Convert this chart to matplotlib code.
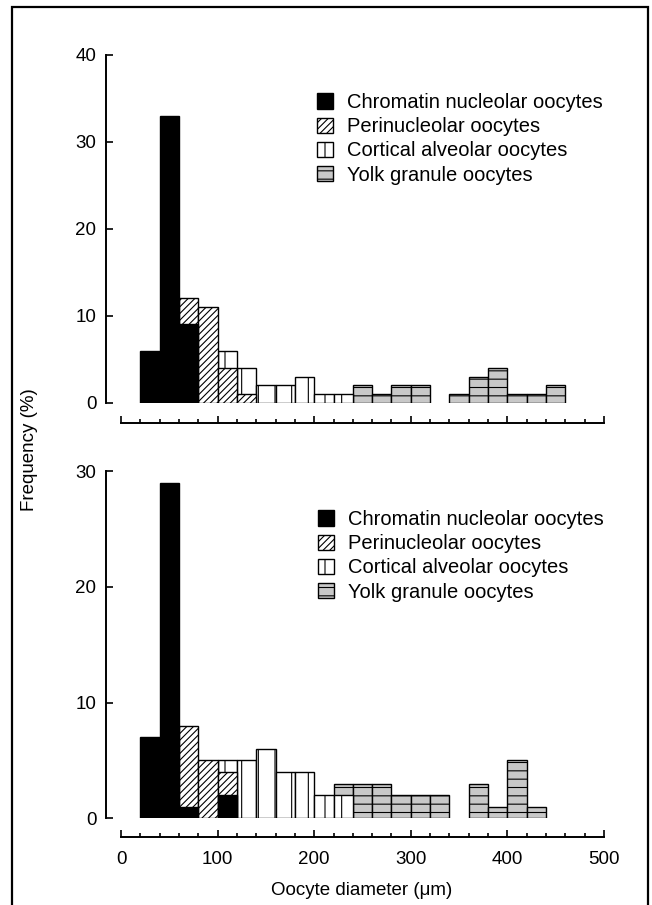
import matplotlib
matplotlib.use('Agg')
import matplotlib.pyplot as plt
from matplotlib.patches import Rectangle, Patch
from matplotlib.ticker import MultipleLocator

plt.rcParams['font.family'] = ['Liberation Sans', 'DejaVu Sans']
plt.rcParams['hatch.linewidth'] = 0.8

labels = ['Chromatin nucleolar oocytes', 'Perinucleolar oocytes',
          'Cortical alveolar oocytes', 'Yolk granule oocytes']

# upper histogram (bin left edge, frequency %)
top_chrom_bins = [20, 40, 60]
top_chrom = [6, 33, 9]
top_peri_bins = [60, 80, 100, 120]
top_peri = [12, 11, 4, 1]
top_cort_bins = [100, 120, 140, 160, 180, 200, 220]
top_cort = [6, 4, 2, 2, 3, 1, 1]
top_yolk_bins = [240, 260, 280, 300, 340, 360, 380, 400, 420, 440]
top_yolk = [2, 1, 2, 2, 1, 3, 4, 1, 1, 2]

# lower histogram
bot_chrom_bins = [20, 40, 60, 100]
bot_chrom = [7, 29, 1, 2]
bot_peri_bins = [60, 80, 100]
bot_peri = [8, 5, 4]
bot_cort_bins = [100, 120, 140, 160, 180, 200, 220]
bot_cort = [5, 5, 6, 4, 4, 2, 2]
bot_yolk_bins = [220, 240, 260, 280, 300, 320, 360, 380, 400, 420]
bot_yolk = [3, 3, 3, 2, 2, 2, 3, 1, 5, 1]

bin_w = 20
gray = '#c8c8c8'

W, H = 652, 905
fig = plt.figure(figsize=(W / 100, H / 100), dpi=100)

# frame round the figure (bottom edge is cut off in the original)
fig.add_artist(Rectangle((12 / W, -0.05), (648 - 12) / W, 1 - 7 / H + 0.05,
                         transform=fig.transFigure, fill=False,
                         edgecolor='black', lw=1.6, clip_on=False))


def panel(ax, chrom_b, chrom, peri_b, peri, cort_b, cort, yolk_b, yolk,
          ymax, xoff, show_xlabels):
    ax.bar(yolk_b, yolk, width=bin_w, align='edge', facecolor=gray,
           edgecolor='black', linewidth=1, hatch='--', zorder=1)
    ax.bar(cort_b, cort, width=bin_w, align='edge', facecolor='white',
           edgecolor='black', linewidth=1, hatch='|', zorder=2)
    ax.bar(peri_b, peri, width=bin_w, align='edge', facecolor='white',
           edgecolor='black', linewidth=1, hatch='/////', zorder=3)
    ax.bar(chrom_b, chrom, width=bin_w, align='edge', facecolor='black',
           edgecolor='black', linewidth=1, zorder=4)

    ax.set_xlim(0, 500)
    ax.set_ylim(0, ymax)
    for s in ['top', 'right']:
        ax.spines[s].set_visible(False)
    ax.spines['left'].set_position(('outward', 10.8))
    ax.spines['bottom'].set_position(('outward', xoff))
    ax.spines['left'].set_linewidth(1.4)
    ax.spines['bottom'].set_linewidth(1.4)
    ax.spines['left'].set_bounds(0, ymax)
    ax.spines['bottom'].set_bounds(0, 500)

    ax.xaxis.set_major_locator(MultipleLocator(100))
    ax.xaxis.set_minor_locator(MultipleLocator(20))
    ax.yaxis.set_major_locator(MultipleLocator(10))
    ax.tick_params(axis='x', which='major', direction='in', length=5,
                   width=1.2, labelsize=13.5, pad=10,
                   labelbottom=show_xlabels)
    ax.tick_params(axis='x', which='minor', direction='in', length=3,
                   width=1.2)
    ax.tick_params(axis='y', direction='in', length=5, width=1.2,
                   labelsize=13.5, pad=7)
    ax.patch.set_visible(False)

    handles = [Patch(facecolor='black', edgecolor='black'),
               Patch(facecolor='white', edgecolor='black', hatch='/////'),
               Patch(facecolor='white', edgecolor='black', hatch='|'),
               Patch(facecolor=gray, edgecolor='black', hatch='--')]
    return handles


left = 121 / W
width = (604 - 121) / W

ax1 = fig.add_axes([left, 1 - 402.7 / H, width, (402.7 - 55) / H])
h1 = panel(ax1, top_chrom_bins, top_chrom, top_peri_bins, top_peri,
           top_cort_bins, top_cort, top_yolk_bins, top_yolk, 40, 14.6, False)
ax1.legend(h1, labels, loc='upper left', bbox_to_anchor=(317 / W, 1 - 93 / H),
           bbox_transform=fig.transFigure, frameon=False, fontsize=14.5,
           handlelength=0.79, handleheight=0.79, handletextpad=0.72,
           labelspacing=0.26, borderpad=0, borderaxespad=0)

ax2 = fig.add_axes([left, 1 - 818.3 / H, width, (818.3 - 471) / H])
h2 = panel(ax2, bot_chrom_bins, bot_chrom, bot_peri_bins, bot_peri,
           bot_cort_bins, bot_cort, bot_yolk_bins, bot_yolk, 30, 13.5, True)
ax2.legend(h2, labels, loc='upper left', bbox_to_anchor=(318 / W, 1 - 510 / H),
           bbox_transform=fig.transFigure, frameon=False, fontsize=14.5,
           handlelength=0.79, handleheight=0.79, handletextpad=0.72,
           labelspacing=0.26, borderpad=0, borderaxespad=0)

fig.text(30 / W, 1 - 450 / H, 'Frequency (%)', rotation=90, ha='center',
         va='center', fontsize=13.5)
fig.text(362 / W, 1 - 890 / H, 'Oocyte diameter (\u03bcm)', ha='center',
         va='center', fontsize=13.5)

fig.savefig('out.png', dpi=100)
